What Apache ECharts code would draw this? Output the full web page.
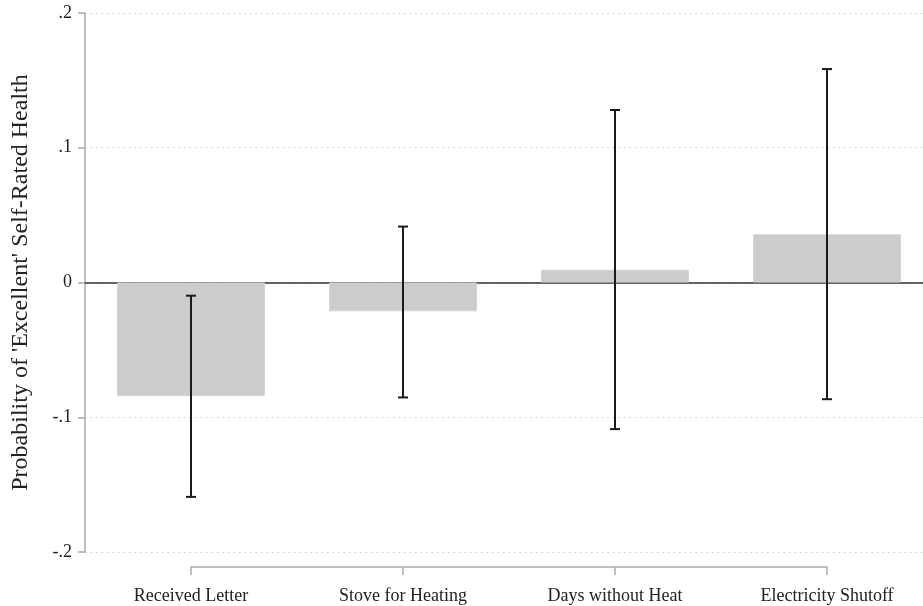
<!DOCTYPE html>
<html>
<head>
<meta charset="utf-8">
<script src="https://cdn.jsdelivr.net/npm/echarts@6/dist/echarts.min.js"></script>
<style>
  html, body { margin: 0; padding: 0; background: #fff; }
  #chart { width: 923px; height: 606px; }
</style>
</head>
<body>
<div id="chart"></div>
<script>
// categories and estimates
var categories = ["Received Letter", "Stove for Heating", "Days without Heat", "Electricity Shutoff"];
var estimates = [-0.0843, -0.0214, 0.0095, 0.0358];
var ciLow = [-0.1591, -0.0853, -0.1088, -0.0866];
var ciHigh = [-0.0098, 0.0415, 0.128, 0.1584];
var yTicks = [-0.2, -0.1, 0, 0.1, 0.2];
var yTickLabels = ["-.2", "-.1", "0", ".1", ".2"];

var font = "'Liberation Serif', 'DejaVu Serif', serif";

var chart = echarts.init(document.getElementById("chart"));

var errData = categories.map(function (c, i) {
  return [i, ciLow[i], ciHigh[i]];
});

var option = {
  animation: false,
  backgroundColor: "#fff",
  grid: [
    { left: 85, top: 13, width: 848, height: 539, outerBoundsMode: "none", containLabel: false },
    // separate strip for the bottom axis (spans first to last category)
    { left: 191, top: 566, width: 636, height: 1, outerBoundsMode: "none", containLabel: false }
  ],
  xAxis: [
    {
      gridIndex: 0,
      type: "category",
      data: categories,
      boundaryGap: true,
      axisLine: { show: true, onZero: true, lineStyle: { color: "#333", width: 1.5 } },
      axisTick: { show: false },
      axisLabel: { show: false },
      splitLine: { show: false }
    },
    {
      gridIndex: 1,
      type: "category",
      data: categories,
      boundaryGap: false,
      position: "bottom",
      axisLine: { show: true, lineStyle: { color: "#aaa", width: 1.5 } },
      axisTick: { show: true, length: 8, lineStyle: { color: "#aaa", width: 1.5 } },
      axisLabel: { color: "#222", fontFamily: font, fontSize: 18, margin: 20 }
    }
  ],
  yAxis: [
    {
      gridIndex: 0,
      type: "value",
      min: -0.2,
      max: 0.2,
      interval: 0.1,
      name: "Probability of 'Excellent' Self-Rated Health",
      nameLocation: "middle",
      nameGap: 52,
      nameTextStyle: { color: "#222", fontFamily: font, fontSize: 24 },
      axisLine: { show: true, lineStyle: { color: "#aaa", width: 1.5 } },
      axisTick: { show: true, length: 7, lineStyle: { color: "#aaa", width: 1.5 } },
      axisLabel: {
        color: "#222",
        fontFamily: font,
        fontSize: 18,
        margin: 13,
        formatter: function (v) {
          var best = 0;
          for (var i = 1; i < yTicks.length; i++) {
            if (Math.abs(yTicks[i] - v) < Math.abs(yTicks[best] - v)) best = i;
          }
          return yTickLabels[best];
        }
      },
      splitLine: { show: true, lineStyle: { color: "#ccc", type: [1.5, 4], width: 1 } }
    },
    {
      gridIndex: 1,
      type: "value",
      show: false
    }
  ],
  series: [
    {
      type: "bar",
      xAxisIndex: 0,
      yAxisIndex: 0,
      data: estimates,
      barWidth: 148,
      itemStyle: { color: "#cccccc", borderColor: "#d4d4d4", borderWidth: 1 },
      z: 2
    },
    {
      type: "custom",
      xAxisIndex: 0,
      yAxisIndex: 0,
      data: errData,
      z: 5,
      renderItem: function (params, api) {
        var x = api.value(0);
        var lo = api.coord([x, api.value(1)]);
        var hi = api.coord([x, api.value(2)]);
        var cap = 5;
        var style = { stroke: "#1a1a1a", lineWidth: 2 };
        return {
          type: "group",
          children: [
            { type: "line", shape: { x1: lo[0], y1: lo[1], x2: hi[0], y2: hi[1] }, style: style },
            { type: "line", shape: { x1: lo[0] - cap, y1: lo[1], x2: lo[0] + cap, y2: lo[1] }, style: style },
            { type: "line", shape: { x1: hi[0] - cap, y1: hi[1], x2: hi[0] + cap, y2: hi[1] }, style: style }
          ]
        };
      }
    }
  ]
};

chart.setOption(option);
</script>
</body>
</html>
